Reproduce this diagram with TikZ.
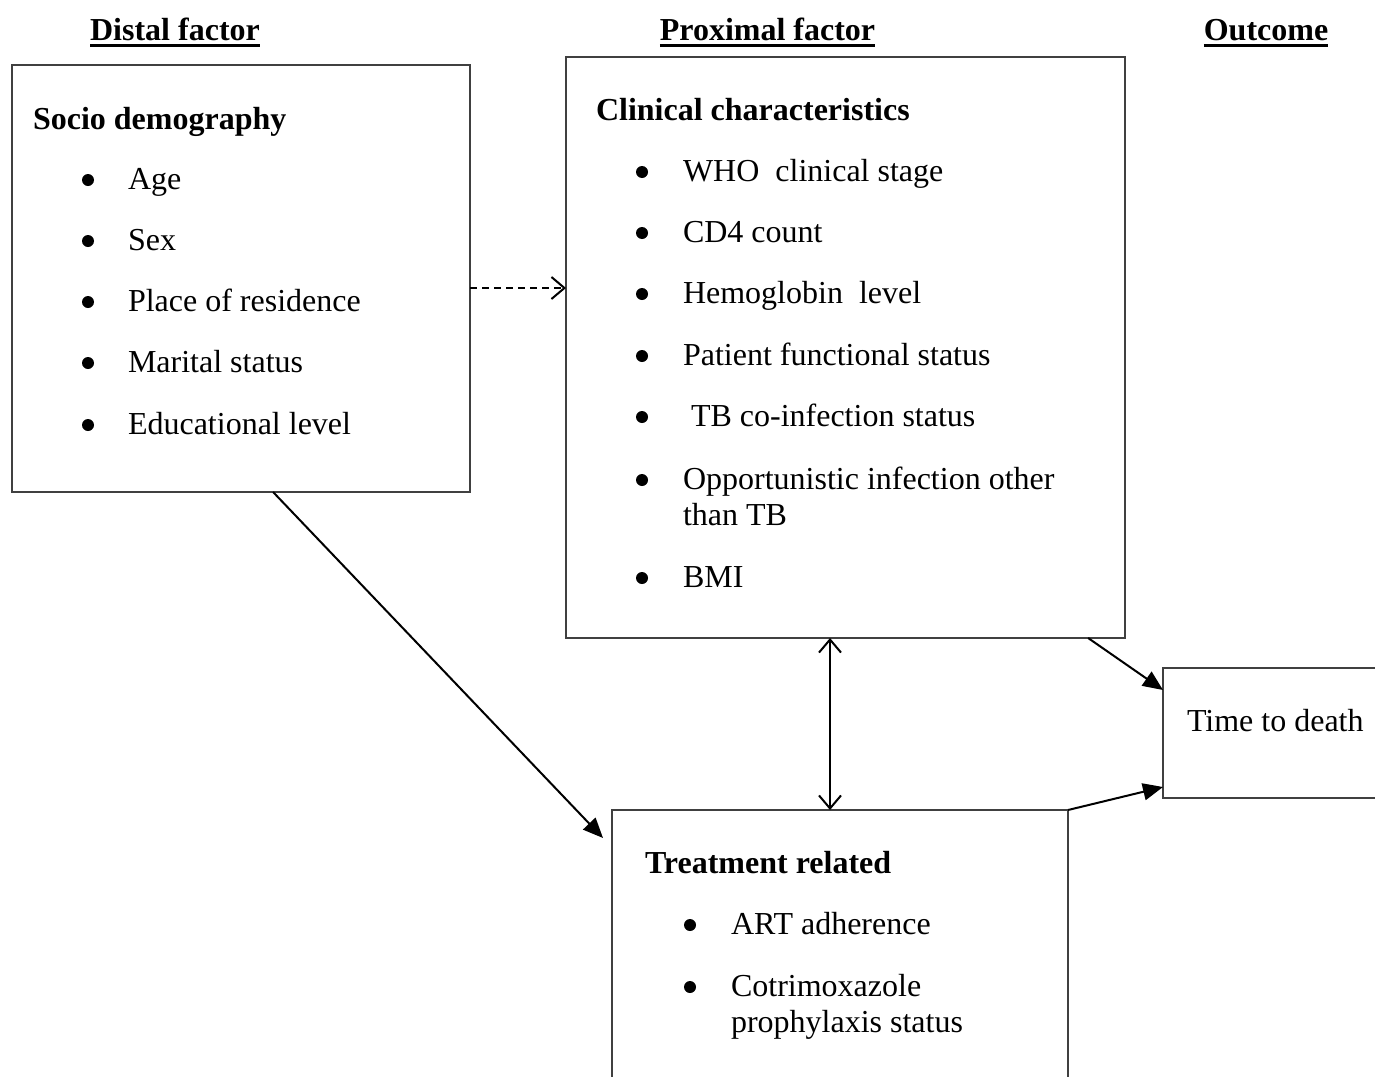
\documentclass[tikz,border=0pt]{standalone}
\usepackage{fontspec}
\setmainfont{Liberation Serif}
\usetikzlibrary{arrows.meta,calc}
\begin{document}
\begin{tikzpicture}[x=1pt,y=-1pt,
  box/.style={draw=black!75,line width=1.4pt,inner sep=0pt,outer sep=0pt,anchor=north west},
  txt/.style={inner sep=0pt,outer sep=0pt,anchor=base west,font=\fontsize{32}{36}\selectfont},
  hdr/.style={inner sep=0pt,outer sep=0pt,anchor=base,font=\fontsize{32}{36}\selectfont\bfseries},
  bul/.style={circle,fill=black,inner sep=0pt,outer sep=0pt,minimum size=12pt},
  ul/.style={line width=3pt},
  conn/.style={line width=2pt,black},
  filled/.style={-{Triangle[length=20pt,width=17pt]}},
  openhead/.style={-{Straight Barb[length=13pt,width=22pt,line width=2pt]}},
  dblopen/.style={{Straight Barb[length=13pt,width=22pt,line width=2pt]}-{Straight Barb[length=13pt,width=22pt,line width=2pt]}}
]
\useasboundingbox (0,0) rectangle (1375,1076);

% headers
\node[hdr] (h1) at (175,40) {Distal factor};
\node[hdr] (h2) at (767.5,40) {Proximal factor};
\node[hdr] (h3) at (1266,40) {Outcome};
\foreach \h in {h1,h2,h3}{
  \draw[ul] ($(\h.base west)+(0,5)$) -- ($(\h.base east)+(0,5)$);
}

% boxes
\node[box,minimum width=458pt,minimum height=427pt] (socio) at (12,65) {};
\node[box,minimum width=559pt,minimum height=581pt] (clin) at (566,57) {};
\node[box,minimum width=220pt,minimum height=130pt] (death) at (1163,668) {};
\node[box,minimum width=456pt,minimum height=290pt] (treat) at (612,810) {};

% socio demography text
\node[txt] (s0) at (33,129) {\bfseries Socio demography};
\foreach \y/\t [count=\i] in {189/Age,250/Sex,311/Place of residence,372/Marital status,434/Educational level}{
  \node[bul] (sb\i) at (88,\y-9) {};
  \node[txt] (st\i) at (128,\y) {\t};
}

% clinical text
\node[txt] (c0) at (596,120) {\bfseries Clinical characteristics};
\foreach \y/\t [count=\i] in {181/WHO\ \ clinical stage,242/CD4 count,303/Hemoglobin\ \ level,365/Patient functional status,426/\ TB co-infection status,489/Opportunistic infection other,587/BMI}{
  \node[bul] (cb\i) at (642,\y-9) {};
  \node[txt] (ct\i) at (683,\y) {\t};
}
\node[txt] (ct8) at (683,525) {than TB};

% treatment text
\node[txt] (t0) at (645,873) {\bfseries Treatment related};
\node[bul] (tb1) at (690,925) {};
\node[txt] (tt1) at (731,934) {ART adherence};
\node[bul] (tb2) at (690,987) {};
\node[txt] (tt2) at (731,996) {Cotrimoxazole};
\node[txt] (tt3) at (731,1032) {prophylaxis status};

% outcome text
\node[txt] (d0) at (1187,731) {Time to death};

% connectors
\draw[conn,openhead,dash pattern=on 7pt off 5pt] ($(socio.north east)+(0,223)$) -- ($(clin.north west)+(0,231)$);
\draw[conn,filled] ($(socio.south west)!0.57!(socio.south east)$) -- ($(treat.north west)+(-9,28)$);
\coordinate (vx) at (830,0);
\draw[conn,dblopen] (clin.south -| vx) -- (treat.north -| vx);
\draw[conn,filled] ($(clin.south west)!0.934!(clin.south east)$) -- ($(death.north west)+(0,22)$);
\draw[conn,filled] (treat.north east) -- ($(death.south west)+(0,-11)$);
\end{tikzpicture}
\end{document}
